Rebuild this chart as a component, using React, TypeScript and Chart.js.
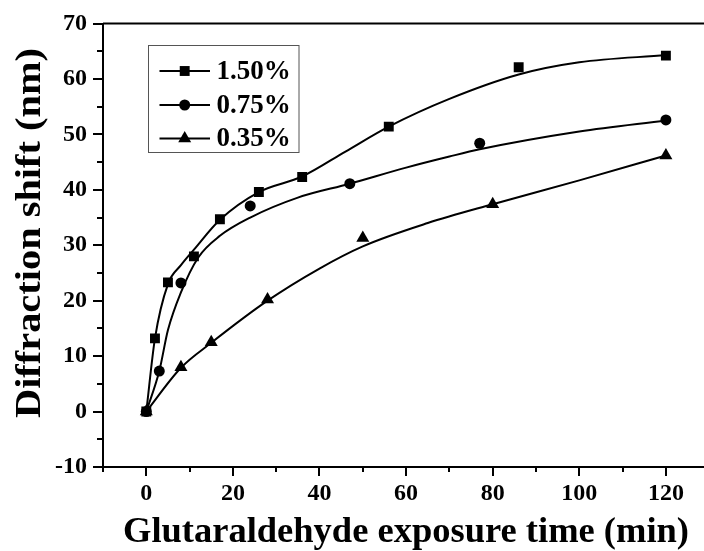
import React, { useEffect, useRef } from 'react';
import { Chart, registerables } from 'chart.js';

Chart.register(...registerables);

// ---- data ----
const seriesLabels = ['1.50%', '0.75%', '0.35%'];

const timeHigh = [0, 2, 5, 11, 17, 26, 36, 56, 86, 120];
const shiftHigh = [0, 13.2, 23.3, 28.0, 34.7, 39.6, 42.3, 51.4, 62.1, 64.2];

const timeMid = [0, 3, 8, 24, 47, 77, 120];
const shiftMid = [0, 7.3, 23.2, 37.1, 41.1, 48.4, 52.6];

const timeLow = [0, 8, 15, 28, 50, 80, 120];
const shiftLow = [0, 8.0, 12.5, 20.2, 31.3, 37.4, 46.2];

// fitted curves
const fitTimeHigh = [0, 2, 5, 8, 11, 17, 26, 36, 46, 56, 70, 86, 100, 120];
const fitShiftHigh = [0, 13.2, 23.0, 26.4, 29.2, 34.6, 39.6, 42.4, 46.9, 51.4, 56.4, 60.8, 63.0, 64.3];

const fitTimeMid = [0, 3, 5, 8, 12, 17, 24, 35, 47, 60, 70, 77, 100, 120];
const fitShiftMid = [0, 7.3, 14.7, 21.5, 27.8, 31.7, 35.0, 38.6, 41.1, 44.0, 46.0, 47.3, 50.5, 52.5];

const fitTimeLow = [0, 8, 15, 28, 40, 50, 65, 80, 100, 120];
const fitShiftLow = [0, 7.9, 12.4, 20.0, 25.8, 29.8, 34.0, 37.4, 41.7, 46.2];

const xTickLabels = [0, 20, 40, 60, 80, 100, 120];
const yTickLabels = [-10, 0, 10, 20, 30, 40, 50, 60, 70];

const xTitle = 'Glutaraldehyde exposure time (min)';
const yTitle = 'Diffraction shift (nm)';

const markerStyles = ['rect', 'circle', 'triangle'];
const markerRadii = [7, 5.5, 7.5];

const FONT = '"Liberation Serif", "Times New Roman", serif';

const pts = (xs: number[], ys: number[]) => xs.map((x, i) => ({ x, y: ys[i] }));

function drawMarker(ctx: CanvasRenderingContext2D, style: string, x: number, y: number, r: number) {
  ctx.beginPath();
  if (style === 'rect') {
    const s = Math.SQRT1_2 * r;
    ctx.rect(x - s, y - s, 2 * s, 2 * s);
  } else if (style === 'circle') {
    ctx.arc(x, y, r, 0, Math.PI * 2);
  } else {
    const w = r * Math.sin((2 * Math.PI) / 3);
    ctx.moveTo(x, y - r);
    ctx.lineTo(x + w, y + r / 2);
    ctx.lineTo(x - w, y + r / 2);
    ctx.closePath();
  }
  ctx.fill();
}

const decorPlugin = {
  id: 'decor',
  afterDraw(chart: any) {
    const { ctx, chartArea, scales } = chart;
    const xs = scales.x;
    const ys = scales.y;
    ctx.save();
    ctx.strokeStyle = '#000';
    ctx.fillStyle = '#000';
    ctx.lineWidth = 2;

    // top frame line
    ctx.beginPath();
    ctx.moveTo(chartArea.left, chartArea.top);
    ctx.lineTo(chartArea.right, chartArea.top);
    ctx.stroke();

    // x ticks (major + minor)
    const xStep = xTickLabels[1] - xTickLabels[0];
    for (let v = xTickLabels[0] - xStep / 2; v <= xTickLabels[xTickLabels.length - 1]; v += xStep / 2) {
      const major = xTickLabels.includes(v);
      const px = Math.round(xs.getPixelForValue(v));
      ctx.beginPath();
      ctx.moveTo(px, chartArea.bottom);
      ctx.lineTo(px, chartArea.bottom + (major ? 9 : 5));
      ctx.stroke();
    }
    // y ticks
    const yStep = yTickLabels[1] - yTickLabels[0];
    for (let v = yTickLabels[0]; v <= yTickLabels[yTickLabels.length - 1]; v += yStep / 2) {
      const major = yTickLabels.includes(v);
      const py = Math.round(ys.getPixelForValue(v));
      ctx.beginPath();
      ctx.moveTo(chartArea.left - (major ? 10 : 6), py);
      ctx.lineTo(chartArea.left, py);
      ctx.stroke();
    }

    // axis titles
    ctx.textAlign = 'center';
    ctx.textBaseline = 'alphabetic';
    ctx.font = `bold 35px ${FONT}`;
    let w = ctx.measureText(xTitle).width;
    ctx.save();
    ctx.translate(406, 541.5);
    ctx.scale(566 / w, 1);
    ctx.fillText(xTitle, 0, 0);
    ctx.restore();

    w = ctx.measureText(yTitle).width;
    ctx.save();
    ctx.translate(40, 233);
    ctx.rotate(-Math.PI / 2);
    ctx.scale(370 / w, 1);
    ctx.fillText(yTitle, 0, 0);
    ctx.restore();

    // legend box
    const bx = 148.5, by = 45.5, bw = 150.5, bh = 107;
    ctx.lineWidth = 1;
    ctx.strokeStyle = '#555';
    ctx.strokeRect(bx, by, bw, bh);
    const rowY = [71, 105, 138.5];
    ctx.font = `bold 27px ${FONT}`;
    ctx.textAlign = 'left';
    ctx.textBaseline = 'middle';
    seriesLabels.forEach((lab, i) => {
      const y = rowY[i];
      ctx.strokeStyle = '#000';
      ctx.lineWidth = 2;
      ctx.beginPath();
      ctx.moveTo(159.5, y);
      ctx.lineTo(210, y);
      ctx.stroke();
      drawMarker(ctx, markerStyles[i], 184.7, y, markerRadii[i]);
      ctx.fillText(lab, 216.5, y + 1);
    });
    ctx.restore();
  },
};

export default function App() {
  const ref = useRef<HTMLCanvasElement | null>(null);

  useEffect(() => {
    if (!ref.current) return;
    const pointSets = [pts(timeHigh, shiftHigh), pts(timeMid, shiftMid), pts(timeLow, shiftLow)];
    const fitSets = [pts(fitTimeHigh, fitShiftHigh), pts(fitTimeMid, fitShiftMid), pts(fitTimeLow, fitShiftLow)];

    const datasets: any[] = [];
    pointSets.forEach((d, i) => {
      datasets.push({
        label: seriesLabels[i],
        data: d,
        showLine: false,
        pointStyle: markerStyles[i],
        pointRadius: markerRadii[i],
        pointBackgroundColor: '#000',
        pointBorderColor: '#000',
        pointBorderWidth: 0,
        order: 1,
      });
    });
    fitSets.forEach((d, i) => {
      datasets.push({
        label: seriesLabels[i] + ' fit',
        data: d,
        showLine: true,
        borderColor: '#000',
        borderWidth: 2,
        pointRadius: 0,
        cubicInterpolationMode: 'monotone',
        fill: false,
        order: 2,
      });
    });

    const chart = new Chart(ref.current, {
      type: 'scatter',
      data: { datasets },
      options: {
        animation: false,
        responsive: false,
        devicePixelRatio: 1,
        layout: { autoPadding: false, padding: { top: 23.5, right: 0, left: 0, bottom: 0 } },
        plugins: { legend: { display: false }, tooltip: { enabled: false } },
        scales: {
          x: {
            type: 'linear',
            min: -10,
            max: 128.8,
            grid: { display: false, drawTicks: false },
            border: { display: true, color: '#000', width: 2 },
            ticks: {
              color: '#000',
              font: { family: FONT, size: 24, weight: 'bold', lineHeight: 2.2 },
              padding: 0,
              maxRotation: 0,
            },
            afterBuildTicks: (s: any) => {
              s.ticks = xTickLabels.map((v) => ({ value: v }));
            },
            afterFit: (s: any) => {
              s.height = 84;
              s.paddingLeft = 0;
              s.paddingRight = 0;
            },
          },
          y: {
            type: 'linear',
            min: -10,
            max: 70,
            grid: { display: false, drawTicks: false },
            border: { display: true, color: '#000', width: 2 },
            ticks: {
              color: '#000',
              font: { family: FONT, size: 24, weight: 'bold', lineHeight: 0.5 },
              padding: 16,
            },
            afterBuildTicks: (s: any) => {
              s.ticks = yTickLabels.map((v) => ({ value: v }));
            },
            afterFit: (s: any) => {
              s.width = 103;
              s.paddingTop = 0;
              s.paddingBottom = 0;
            },
          },
        },
      },
      plugins: [decorPlugin],
    });
    return () => chart.destroy();
  }, []);

  return (
    <div style={{ position: 'absolute', left: 0, top: 0, width: 704, height: 551, background: '#fff' }}>
      <canvas ref={ref} width={704} height={551} style={{ display: 'block' }} />
    </div>
  );
}
